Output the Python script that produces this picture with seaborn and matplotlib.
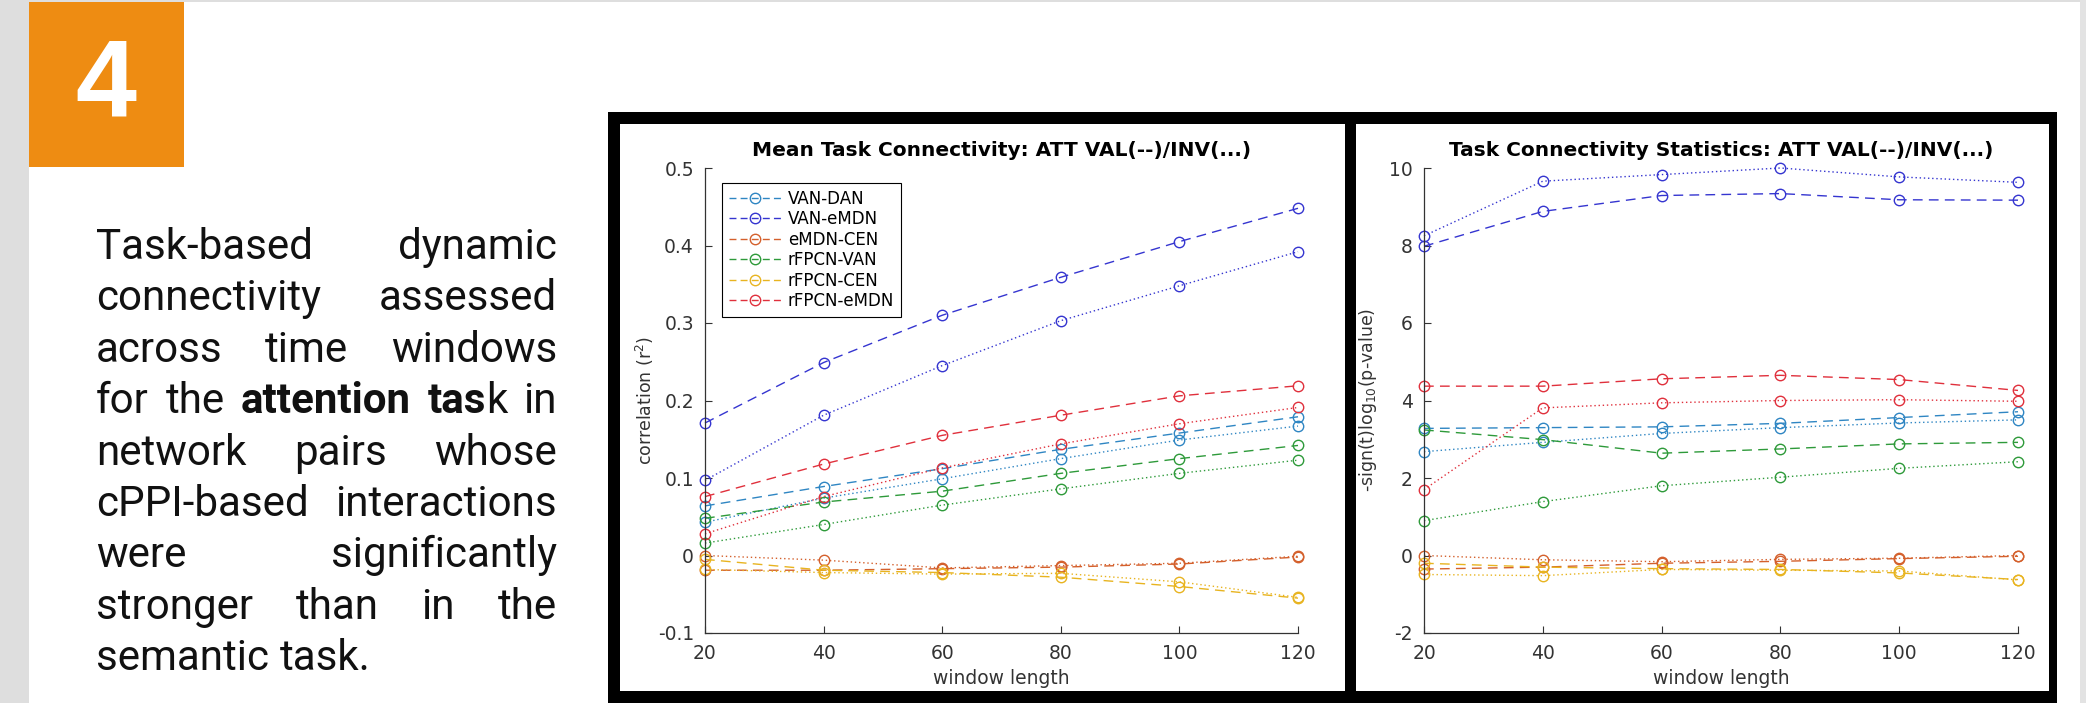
import matplotlib
matplotlib.use("Agg")
import matplotlib.pyplot as plt
from matplotlib.patches import Rectangle
from matplotlib.lines import Line2D
import pandas as pd
import seaborn as sns

# ---- data ----
windows = [20, 40, 60, 80, 100, 120]
pairs = ["VAN-DAN", "VAN-eMDN", "eMDN-CEN", "rFPCN-VAN", "rFPCN-CEN", "rFPCN-eMDN"]
pair_colors = ["#2f86c3", "#3535d0", "#d4602c", "#2e9a3a", "#e8b420", "#e0303c"]

# mean task connectivity, VAL (dashed) and INV (dotted), one row per pair
corr_val = [
    [0.064, 0.089, 0.112, 0.137, 0.158, 0.179],
    [0.171, 0.249, 0.310, 0.359, 0.405, 0.448],
    [-0.019, -0.019, -0.017, -0.015, -0.011, -0.002],
    [0.048, 0.069, 0.083, 0.106, 0.125, 0.142],
    [-0.005, -0.019, -0.022, -0.028, -0.040, -0.055],
    [0.076, 0.118, 0.155, 0.181, 0.206, 0.219],
]
corr_inv = [
    [0.043, 0.074, 0.099, 0.125, 0.149, 0.167],
    [0.097, 0.181, 0.245, 0.303, 0.348, 0.392],
    [0.000, -0.006, -0.016, -0.013, -0.010, -0.001],
    [0.016, 0.040, 0.065, 0.086, 0.106, 0.123],
    [-0.018, -0.022, -0.024, -0.023, -0.034, -0.054],
    [0.028, 0.076, 0.113, 0.144, 0.170, 0.191],
]
# connectivity statistics
stat_val = [
    [3.28, 3.30, 3.32, 3.41, 3.56, 3.71],
    [7.98, 8.88, 9.29, 9.34, 9.18, 9.17],
    [-0.35, -0.30, -0.20, -0.15, -0.08, -0.02],
    [3.24, 2.99, 2.64, 2.75, 2.88, 2.92],
    [-0.20, -0.30, -0.34, -0.36, -0.45, -0.62],
    [4.37, 4.37, 4.56, 4.65, 4.54, 4.26],
]
stat_inv = [
    [2.68, 2.92, 3.15, 3.30, 3.42, 3.50],
    [8.25, 9.66, 9.83, 10.0, 9.77, 9.63],
    [0.00, -0.11, -0.16, -0.10, -0.07, 0.00],
    [0.90, 1.39, 1.80, 2.02, 2.25, 2.42],
    [-0.49, -0.52, -0.36, -0.38, -0.40, -0.63],
    [1.70, 3.81, 3.94, 4.00, 4.02, 3.98],
]
corr_ticks = [-0.1, 0, 0.1, 0.2, 0.3, 0.4, 0.5]
corr_ticklabels = ["-0.1", "0", "0.1", "0.2", "0.3", "0.4", "0.5"]
stat_ticks = [-2, 0, 2, 4, 6, 8, 10]

panel_number = "4"
# *...* marks bold pieces
text_lines = [
    "Task-based dynamic",
    "connectivity assessed",
    "across time windows",
    "for the *attention* *tas*k in",
    "network pairs whose",
    "cPPI-based interactions",
    "were significantly",
    "stronger than in the",
    "semantic task.",
]

W, H = 2086, 703
plt.rcParams['font.family'] = ['DejaVu Sans']
plt.rcParams['mathtext.default'] = 'regular'

fig = plt.figure(figsize=(W / 100, H / 100), dpi=100)
fig.patch.set_facecolor('white')

# background layer in pixel coordinates
bg = fig.add_axes([0, 0, 1, 1])
bg.set_xlim(0, W)
bg.set_ylim(H, 0)
bg.axis('off')

bg.add_patch(Rectangle((0, 0), 29, H, color='#dedede', lw=0))
bg.add_patch(Rectangle((0, 0), W, 2, color='#dedede', lw=0))
bg.add_patch(Rectangle((2080, 0), 6, H, color='#e3e3e3', lw=0))
bg.add_patch(Rectangle((29, 2), 155, 165, color='#ee8c12', lw=0))
bg.text(106, 116, panel_number, color='white', fontsize=79, fontweight='bold',
        family='Liberation Sans', ha='center', va='baseline')

# black frame around the two charts
bg.add_patch(Rectangle((608, 112), 2057 - 608, H - 112, color='black', lw=0))
bg.add_patch(Rectangle((620, 124), 1345 - 620, 691 - 124, color='white', lw=0))
bg.add_patch(Rectangle((1356, 124), 2049 - 1356, 691 - 124, color='white', lw=0))

# justified paragraph
fs = 30.3
left, right = 96, 557
base0, step = 259, 51.4
renderer = fig.canvas.get_renderer()


def piece_width(txt, bold):
    t = bg.text(0, 0, txt, fontsize=fs, family='Roboto',
                fontweight='bold' if bold else 'normal')
    w = t.get_window_extent(renderer).width
    t.remove()
    return w


space_w = piece_width("a a", False) - piece_width("aa", False)
for i, line in enumerate(text_lines):
    words = []
    for w in line.split(' '):
        parts = w.split('*')
        pieces = [(p, k % 2 == 1) for k, p in enumerate(parts) if p]
        words.append([(p, b, piece_width(p, b)) for p, b in pieces])
    widths = [sum(pw for _, _, pw in wd) for wd in words]
    if i < len(text_lines) - 1 and len(words) > 1:
        gap = (right - left - sum(widths)) / (len(words) - 1)
    else:
        gap = space_w
    x = left
    y = base0 + i * step
    for wd, ww in zip(words, widths):
        xx = x
        for p, b, pw in wd:
            bg.text(xx, y, p, fontsize=fs, family='Roboto', va='baseline',
                    fontweight='bold' if b else 'normal', color='#111111')
            xx += pw
        x += ww + gap


def long_frame(val_rows, inv_rows):
    recs = []
    for p, vrow, irow in zip(pairs, val_rows, inv_rows):
        for w, v in zip(windows, vrow):
            recs.append((w, v, p, 'VAL'))
        for w, v in zip(windows, irow):
            recs.append((w, v, p, 'INV'))
    return pd.DataFrame(recs, columns=['window', 'value', 'pair', 'cond'])


dash_map = {'VAL': (7, 4.5), 'INV': (1, 2)}
tick_col = '#333333'


def draw_panel(ax, df, title, ylabel, ylim, yticks, yticklabels, ylab_px):
    sns.lineplot(data=df, x='window', y='value', hue='pair', hue_order=pairs,
                 palette=pair_colors, style='cond', style_order=['VAL', 'INV'],
                 dashes=dash_map, markers={'VAL': 'o', 'INV': 'o'},
                 markersize=7.5, linewidth=1.0, errorbar=None, legend=False,
                 ax=ax, clip_on=False)
    for ln in ax.lines:
        c = ln.get_color()
        ln.set_markerfacecolor('none')
        ln.set_markeredgecolor(c)
        ln.set_markeredgewidth(1.0)
    ax.set_xlim(20, 120)
    ax.set_ylim(*ylim)
    ax.set_xticks(windows)
    ax.set_yticks(yticks)
    ax.set_yticklabels(yticklabels)
    ax.patch.set_alpha(0)
    for s in ['top', 'right']:
        ax.spines[s].set_visible(False)
    for s in ['left', 'bottom']:
        ax.spines[s].set_color(tick_col)
        ax.spines[s].set_linewidth(0.9)
    ax.tick_params(direction='in', length=5, width=0.8, colors=tick_col,
                   labelsize=13.5, pad=8)
    ax.set_title(title, fontsize=14.5, fontweight='bold', pad=9)
    ax.set_xlabel('window length', fontsize=13.5, color=tick_col, va='center')
    ax.set_ylabel(ylabel, fontsize=12.5, color=tick_col, va='center')
    bb = ax.get_position()
    ax.xaxis.set_label_coords(0.5, -46 / (bb.height * H))
    ax.yaxis.set_label_coords(-ylab_px / (bb.width * W), 0.5)


ax1 = fig.add_axes([705 / W, 1 - 633 / H, 593 / W, 465 / H])
ax2 = fig.add_axes([1424 / W, 1 - 633 / H, 594 / W, 465 / H])

draw_panel(ax1, long_frame(corr_val, corr_inv),
           'Mean Task Connectivity: ATT VAL(--)/INV(...)',
           'correlation (r$^2$)', (-0.1, 0.5), corr_ticks, corr_ticklabels, 60)
draw_panel(ax2, long_frame(stat_val, stat_inv),
           'Task Connectivity Statistics: ATT VAL(--)/INV(...)',
           '-sign(t)log$_{10}$(p-value)', (-2, 10), stat_ticks,
           [str(t) for t in stat_ticks], 56)

handles = [Line2D([], [], color=c, ls=(0, (5, 3)), lw=1.0, marker='o',
                  mfc='none', mec=c, ms=7.5, mew=1.0) for c in pair_colors]
leg = ax1.legend(handles, pairs, loc='upper left',
                 bbox_to_anchor=(17 / 593, 1 - 15 / 465), borderaxespad=0,
                 fontsize=12, handlelength=3.2, handletextpad=0.35,
                 labelspacing=0.15, borderpad=0.4, fancybox=False,
                 framealpha=1, edgecolor='black')
leg.get_frame().set_linewidth(0.8)

fig.savefig('out.png', dpi=100)
